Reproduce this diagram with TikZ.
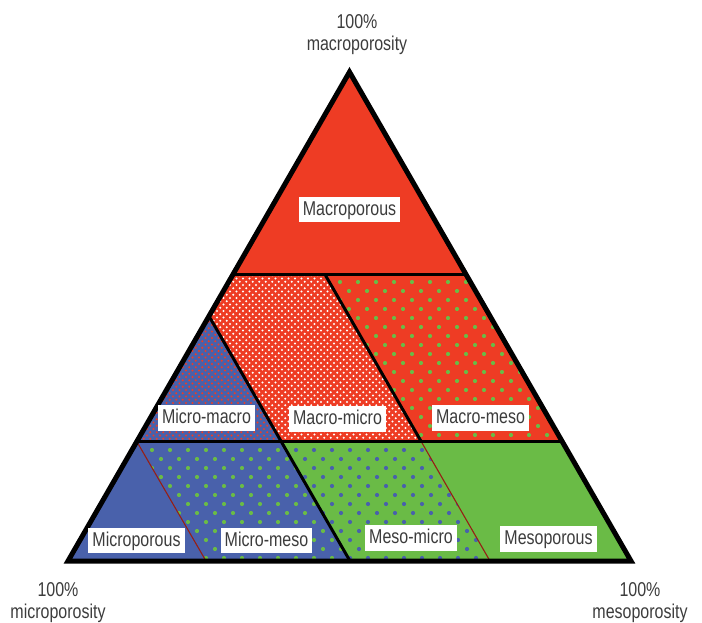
\documentclass[tikz,border=0pt]{standalone}
\usepackage{fontspec}
\setmainfont{Liberation Sans}[FakeStretch=0.8]
\definecolor{pred}{RGB}{238,60,36}
\definecolor{pblue}{RGB}{73,97,171}
\definecolor{pgreen}{RGB}{106,187,70}
\definecolor{ptext}{RGB}{60,60,60}
\definecolor{pthin}{RGB}{150,30,20}
\newcommand\mydotgrid[7]{%
  \pgfmathsetmacro\dgHalf{#5/2}%
  \pgfmathtruncatemacro\dgRows{(#4-#2)/\dgHalf+1}%
  \pgfmathtruncatemacro\dgCols{(#3-#1)/#5+1}%
  \foreach \j in {0,...,\dgRows}{%
    \foreach \i in {0,...,\dgCols}{%
      \fill[#7] ({#1+\i*#5+mod(\j,2)*\dgHalf},{#2+\j*\dgHalf}) circle[radius=#6];
    }%
  }%
}
\begin{document}
\begin{tikzpicture}[x=1pt,y=-1pt,
  lab/.style={fill=white, text=ptext, font=\fontsize{20}{23}\selectfont, inner xsep=4pt, inner ysep=4pt, text height=14.5pt, text depth=2.7pt},
  corner/.style={text=ptext, font=\fontsize{20}{22}\selectfont, align=center, inner sep=0pt},
  thickline/.style={line width=3pt, black},
  thinline/.style={line width=1.1pt, pthin},
  outer/.style={line width=5pt, black, line join=miter}]
\useasboundingbox (0,0) rectangle (702,623);
\coordinate (A) at (349.5,72);
\coordinate (L) at (68,561);
\coordinate (R) at (631,561);
\coordinate (ul) at (232.9,274.5);
\coordinate (um) at (325,274.5);
\coordinate (ur) at (466.1,274.5);
\coordinate (lm) at (209,316.1);
\coordinate (ll) at (136.8,441.5);
\coordinate (l2) at (281.2,441.5);
\coordinate (l1) at (421.2,441.5);
\coordinate (lr) at (562.2,441.5);
\coordinate (b3) at (206,561);
\coordinate (b2) at (350,561);
\coordinate (b1) at (490,561);
% fills
\fill[pred] (A)--(ul)--(ur)--cycle;
\fill[pred] (ul)--(um)--(l1)--(l2)--(lm)--cycle;
\fill[pred] (um)--(ur)--(lr)--(l1)--cycle;
\fill[pblue] (lm)--(l2)--(ll)--cycle;
\fill[pblue] (ll)--(b3)--(L)--cycle;
\fill[pblue] (ll)--(l2)--(b2)--(b3)--cycle;
\fill[pgreen] (l2)--(l1)--(b1)--(b2)--cycle;
\fill[pgreen] (l1)--(lr)--(R)--(b1)--cycle;
% dot patterns
\begin{scope}
  \clip (ul)--(um)--(l1)--(l2)--(lm)--cycle;
  \mydotgrid{204}{272}{425}{445}{6.5}{1.1}{white}
\end{scope}
\begin{scope}
  \clip (lm)--(l2)--(ll)--cycle;
  \mydotgrid{134}{312}{285}{445}{6.5}{1.1}{pred}
\end{scope}
\begin{scope}
  \clip (um)--(ur)--(lr)--(l1)--cycle;
  \mydotgrid{322}{282}{570}{445}{18}{2.1}{pgreen}
\end{scope}
\begin{scope}
  \clip (ll)--(l2)--(b2)--(b3)--cycle;
  \mydotgrid{134}{450}{355}{565}{18}{2.1}{pgreen}
\end{scope}
\begin{scope}
  \clip (l2)--(l1)--(b1)--(b2)--cycle;
  \mydotgrid{278}{450}{495}{565}{18}{2.1}{pblue}
\end{scope}
% dividing lines
\draw[thinline] (ll)--(b3);
\draw[thinline] (l1)--(b1);
\draw[thickline] (ul)--(ur);
\draw[thickline] (ll)--(lr);
\draw[thickline] (um)--(l1);
\draw[thickline] (lm)--(b2);
\draw[outer] (A)--(L)--(R)--cycle;
% labels
\node[lab] (macroporous) at (349.5,209.5) {Macroporous};
\node[lab] (macromicro) at (337.5,419) {Macro-micro};
\node[lab] (micromacro) at (206.5,418) {Micro-macro};
\node[lab] (macromeso) at (480.5,418) {Macro-meso};
\node[lab] (microporous) at (136.5,540.5) {Microporous};
\node[lab] (micromeso) at (266.5,540.5) {Micro-meso};
\node[lab] (mesomicro) at (411,538) {Meso-micro};
\node[lab] (mesoporous) at (548.5,539) {Mesoporous};
% corner labels
\node[corner] (ctop) at (357,34.5) {100\%\\macroporosity};
\node[corner] (cleft) at (58,603) {100\%\\microporosity};
\node[corner] (cright) at (640,603) {100\%\\mesoporosity};
\end{tikzpicture}
\end{document}
